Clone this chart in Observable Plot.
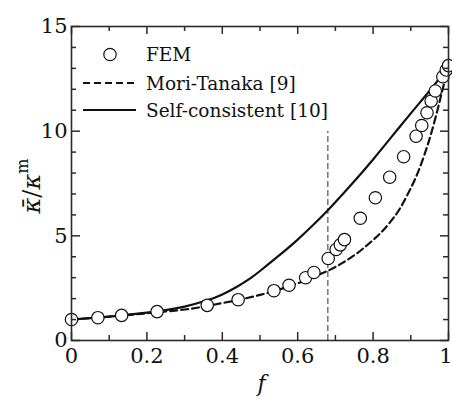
<!DOCTYPE html>
<html>
<head>
<meta charset="utf-8">
<script src="https://cdn.jsdelivr.net/npm/d3@7"></script>
<script src="https://cdn.jsdelivr.net/npm/@observablehq/plot@0.6"></script>
<style>
  html, body { margin: 0; padding: 0; background: #fff; }
  #chart svg { display: block; }
</style>
</head>
<body>
<div id="chart"></div>
<script>
// Effective conductivity ratio κ̄/κᵐ against volume fraction f

// FEM results (open circles)
const fFEM = [0, 0.07, 0.133, 0.227, 0.36, 0.442, 0.537, 0.577, 0.621, 0.643, 0.681, 0.702, 0.713, 0.724, 0.766, 0.806, 0.844, 0.881, 0.914, 0.929, 0.943, 0.954, 0.965, 0.985, 0.994, 1.0];
const kFEM = [1.0, 1.09, 1.2, 1.38, 1.68, 1.95, 2.38, 2.64, 3.0, 3.25, 3.92, 4.35, 4.57, 4.82, 5.84, 6.82, 7.8, 8.78, 9.76, 10.27, 10.88, 11.44, 11.92, 12.6, 12.92, 13.13];

// Mori-Tanaka estimate (dashed)
const fMT = [0, 0.1, 0.2, 0.3, 0.36, 0.44, 0.5, 0.54, 0.58, 0.62, 0.68, 0.72, 0.76, 0.8, 0.83, 0.86, 0.88, 0.9, 0.92, 0.94, 0.955, 0.97, 0.98, 0.99, 1.0];
const kMT = [1.0, 1.14, 1.3, 1.48, 1.65, 1.93, 2.18, 2.37, 2.6, 2.87, 3.33, 3.72, 4.2, 4.8, 5.33, 6.0, 6.58, 7.28, 8.08, 9.08, 9.95, 10.95, 11.68, 12.4, 13.13];

// Self-consistent estimate (solid)
const fSC = [0, 0.1, 0.2, 0.25, 0.3, 0.36, 0.4, 0.44, 0.475, 0.5, 0.55, 0.6, 0.64, 0.68, 0.74, 0.8, 0.85, 0.9, 0.93, 0.96, 0.98, 1.0];
const kSC = [1.0, 1.14, 1.33, 1.45, 1.62, 1.92, 2.2, 2.58, 2.98, 3.32, 4.05, 4.82, 5.5, 6.22, 7.4, 8.65, 9.75, 10.85, 11.5, 12.15, 12.62, 13.1];

// Vertical reference line
const fMarker = 0.68;
const kMarkerTop = 10;

// Ticks and labels
const xMajor = [0, 0.2, 0.4, 0.6, 0.8, 1];
const xMinor = [0.1, 0.3, 0.5, 0.7, 0.9];
const yMajor = [0, 5, 10, 15];
const yMinor = [1, 2, 3, 4, 6, 7, 8, 9, 11, 12, 13, 14];
const legendLabels = ["FEM", "Mori-Tanaka [9]", "Self-consistent [10]"];
const xTitle = "f";

const W = 452, H = 397;
const mL = 71, mR = 4, mT = 26, mB = 57;
const plotW = W - mL - mR, plotH = H - mT - mB;
const xDomain = [0, 1], yDomain = [0, 15];
const serif = "'DejaVu Serif', 'Liberation Serif', serif";
const axisColor = "#2a2a2a";

const fem = fFEM.map((f, i) => ({f, k: kFEM[i]}));
const mt = fMT.map((f, i) => ({f, k: kMT[i]}));
const sc = fSC.map((f, i) => ({f, k: kSC[i]}));

// inward tick marks along the four sides; lengths given in pixels
const xPerPx = (xDomain[1] - xDomain[0]) / plotW;
const yPerPx = (yDomain[1] - yDomain[0]) / plotH;
const tickStyle = {stroke: axisColor, strokeWidth: 1.5};
const ticksBottom = (vals, px) => Plot.ruleX(vals, {x: d => d, y1: yDomain[0], y2: yDomain[0] + px * yPerPx, ...tickStyle});
const ticksTop = (vals, px) => Plot.ruleX(vals, {x: d => d, y1: yDomain[1] - px * yPerPx, y2: yDomain[1], ...tickStyle});
const ticksLeft = (vals, px) => Plot.ruleY(vals, {y: d => d, x1: xDomain[0], x2: xDomain[0] + px * xPerPx, ...tickStyle});
const ticksRight = (vals, px) => Plot.ruleY(vals, {y: d => d, x1: xDomain[1] - px * xPerPx, x2: xDomain[1], ...tickStyle});

const fmtX = d => d === 0 || d === 1 ? String(d) : d.toFixed(1);

const chart = Plot.plot({
  width: W, height: H,
  marginLeft: mL, marginRight: mR, marginTop: mT, marginBottom: mB,
  style: {fontFamily: serif, background: "white", color: "#111"},
  x: {domain: xDomain},
  y: {domain: yDomain},
  marks: [
    Plot.ruleX([fMarker], {y1: 0, y2: kMarkerTop, stroke: "#444", strokeWidth: 1.1, strokeDasharray: "6,3"}),
    Plot.line(sc, {x: "f", y: "k", curve: "natural", strokeWidth: 2.2}),
    Plot.line(mt, {x: "f", y: "k", curve: "natural", strokeWidth: 2.2, strokeDasharray: "7,4"}),
    Plot.dot(fem, {x: "f", y: "k", r: 6.2, fill: "white", stroke: "#111", strokeWidth: 1.2}),
    ticksBottom(xMajor, 8), ticksBottom(xMinor, 5),
    ticksTop(xMajor, 8), ticksTop(xMinor, 5),
    ticksLeft(yMajor, 9), ticksLeft(yMinor, 5),
    ticksRight(yMajor, 8), ticksRight(yMinor, 5),
    Plot.axisX({anchor: "bottom", ticks: xMajor.slice(0, -1), tickSize: 0, tickPadding: 8, fontSize: 21, label: null, tickFormat: fmtX}),
    Plot.axisX({anchor: "bottom", ticks: xMajor.slice(-1), tickSize: 0, tickPadding: 8, fontSize: 21, label: null, tickFormat: fmtX, textAnchor: "end", dx: 4}),
    Plot.axisY({anchor: "left", ticks: yMajor, tickSize: 0, tickPadding: 4, fontSize: 21, label: null}),
    Plot.frame({stroke: axisColor, strokeWidth: 1.6})
  ]
});

document.getElementById("chart").append(chart);

// axis titles and legend, placed relative to the plotting frame
const svg = d3.select(chart);
const xs = chart.scale("x"), ys = chart.scale("y");
const frameLeft = xs.apply(0), frameRight = xs.apply(1);
const frameTop = ys.apply(15), frameBottom = ys.apply(0);

svg.append("text")
  .attr("x", (frameLeft + frameRight) / 2 + 2).attr("y", frameBottom + 51)
  .attr("text-anchor", "middle")
  .attr("font-family", serif).attr("font-size", 22).attr("font-style", "italic")
  .attr("fill", "#111")
  .text(xTitle);

const yTitle = svg.append("text")
  .attr("transform", `translate(40,${(frameTop + frameBottom) / 2 + 3}) rotate(-90)`)
  .attr("text-anchor", "middle")
  .attr("font-family", serif).attr("font-size", 24).attr("fill", "#111");
yTitle.append("tspan").attr("font-style", "italic").text("\u03BA\u0304");
yTitle.append("tspan").text("/");
yTitle.append("tspan").attr("font-style", "italic").text("\u03BA");
yTitle.append("tspan").attr("font-size", 16).attr("dy", -12).text("m");

const lg = svg.append("g").attr("fill", "#111").attr("font-family", serif).attr("font-size", 18.5)
  .attr("text-anchor", "start");
const rows = [frameTop + 28.5, frameTop + 57, frameTop + 84];
const textX = frameLeft + 75;
lg.append("circle").attr("cx", frameLeft + 39).attr("cy", rows[0]).attr("r", 6.2)
  .attr("fill", "white").attr("stroke", "#111").attr("stroke-width", 1.2);
lg.append("line").attr("x1", frameLeft + 12).attr("x2", frameLeft + 65).attr("y1", rows[1]).attr("y2", rows[1])
  .attr("stroke", "#111").attr("stroke-width", 2.2).attr("stroke-dasharray", "7,4");
lg.append("line").attr("x1", frameLeft + 12).attr("x2", frameLeft + 65).attr("y1", rows[2]).attr("y2", rows[2])
  .attr("stroke", "#111").attr("stroke-width", 2.2);
legendLabels.forEach((t, i) => {
  lg.append("text").attr("x", textX).attr("y", rows[i] + 6.8).attr("text-anchor", "start").text(t);
});
</script>
</body>
</html>
